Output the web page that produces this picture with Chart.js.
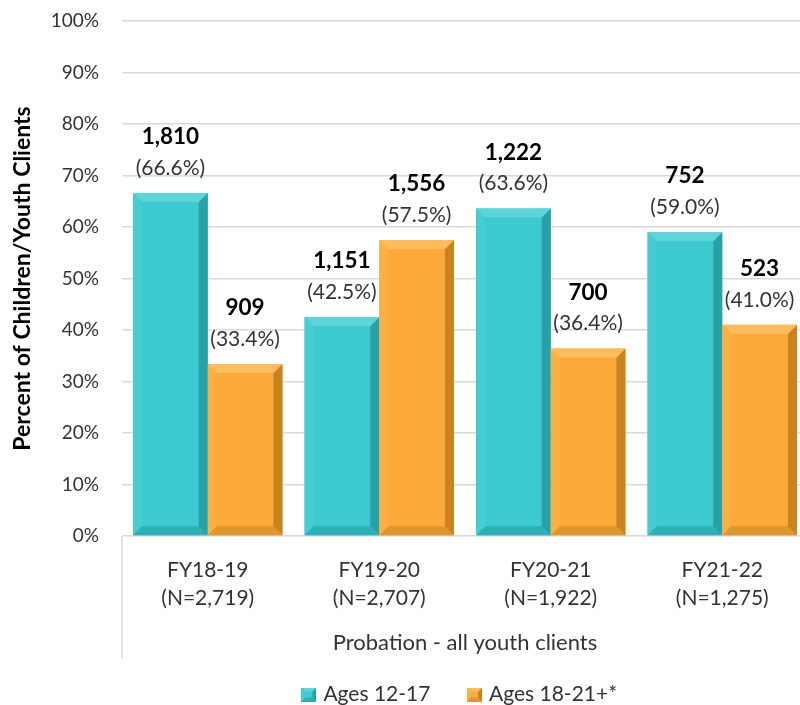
<!DOCTYPE html>
<html>
<head>
<meta charset="utf-8">
<script src="https://cdn.jsdelivr.net/npm/chart.js@4.4.1/dist/chart.umd.min.js"></script>
<style>
    html, body { margin: 0; padding: 0; background: #fff; overflow: hidden; }
    #chart { display: block; }
</style>
</head>
<body>
<canvas id="chart" width="810" height="705"></canvas>
<script>
// Data
const categories = [
    ['FY18-19', '(N=2,719)'],
    ['FY19-20', '(N=2,707)'],
    ['FY20-21', '(N=1,922)'],
    ['FY21-22', '(N=1,275)']
];
const seriesNames = ['Ages 12-17', 'Ages 18-21+*'];
const pctYouth = [66.6, 42.5, 63.6, 59.0];
const pctAdult = [33.4, 57.5, 36.4, 41.0];
const countYouth = [1810, 1151, 1222, 752];
const countAdult = [909, 1556, 700, 523];
const yMax = 100;
const yStep = 10;

const FONT = 'Lato, "Open Sans", sans-serif';
const TEXT = '#333333';
const GRID = '#D9D9D9';

const palette = [
    { face: '#3CC9CF', light: '#5CD4D9', left: '#45CDD2', dark: '#27A1A7', bottom: '#2FB0B6' },
    { face: '#FBAA3A', light: '#FDBC5E', left: '#FBB045', dark: '#C98220', bottom: '#DE962E' }
];

function poly(ctx, pts, color) {
    ctx.beginPath();
    ctx.moveTo(pts[0][0], pts[0][1]);
    for (let i = 1; i < pts.length; i++) ctx.lineTo(pts[i][0], pts[i][1]);
    ctx.closePath();
    ctx.fillStyle = color;
    ctx.fill();
}

// Excel-like bevel on a rectangle
function bevel(ctx, l, t, r, b, c, size) {
    const s = Math.min(size, (r - l) / 2, (b - t) / 2);
    poly(ctx, [[l, t], [l + s, t + s], [l + s, b - s], [l, b]], c.left);
    poly(ctx, [[l, b], [r, b], [r - s, b - s], [l + s, b - s]], c.bottom);
    poly(ctx, [[r, t], [r, b], [r - s, b - s], [r - s, t + s]], c.dark);
    poly(ctx, [[l, t], [r, t], [r - s, t + s], [l + s, t + s]], c.light);
}

function makeSwatch(c) {
    const cv = document.createElement('canvas');
    cv.width = 15;
    cv.height = 14;
    const g = cv.getContext('2d');
    g.fillStyle = c.face;
    g.fillRect(0, 0, 15, 14);
    bevel(g, 0, 0, 15, 14, c, 4);
    return cv;
}
const swatches = palette.map(makeSwatch);

const bevelPlugin = {
    id: 'bevel',
    afterDatasetsDraw(chart) {
        const ctx = chart.ctx;
        chart.data.datasets.forEach((ds, di) => {
            chart.getDatasetMeta(di).data.forEach(bar => {
                const { x, y, base, width } = bar.getProps(['x', 'y', 'base', 'width'], true);
                bevel(ctx, x - width / 2, y, x + width / 2, base, palette[di], 9);
            });
        });
    }
};

const labelPlugin = {
    id: 'barLabels',
    afterDatasetsDraw(chart) {
        const ctx = chart.ctx;
        const counts = [countYouth, countAdult];
        ctx.save();
        ctx.textAlign = 'center';
        ctx.textBaseline = 'middle';
        chart.data.datasets.forEach((ds, di) => {
            chart.getDatasetMeta(di).data.forEach((bar, i) => {
                const { x, y } = bar.getProps(['x', 'y'], true);
                ctx.fillStyle = '#000';
                ctx.font = 'bold 22.5px ' + FONT;
                ctx.fillText(counts[di][i].toLocaleString('en-US'), x, y - 56);
                ctx.fillStyle = TEXT;
                ctx.font = '21px ' + FONT;
                ctx.fillText('(' + ds.data[i].toFixed(1) + '%)', x, y - 25);
            });
        });
        ctx.restore();
    }
};

// left border of the category axis block
const axisLinePlugin = {
    id: 'axisLine',
    afterDraw(chart) {
        const ctx = chart.ctx;
        const x = chart.scales.x.left;
        ctx.save();
        ctx.strokeStyle = GRID;
        ctx.lineWidth = 1.5;
        ctx.beginPath();
        ctx.moveTo(x, chart.chartArea.bottom);
        ctx.lineTo(x, 658);
        ctx.stroke();
        ctx.restore();
    }
};

// move the legend under the plot like the original
const legendShiftPlugin = {
    id: 'legendShift',
    afterLayout(chart) {
        const lg = chart.legend;
        if (!lg) return;
        lg.left += 57;
        lg.right += 57;
        lg.top += 10;
        lg.bottom += 10;
    }
};

new Chart(document.getElementById('chart'), {
    type: 'bar',
    data: {
        labels: categories,
        datasets: [
            { label: seriesNames[0], data: pctYouth, backgroundColor: palette[0].face },
            { label: seriesNames[1], data: pctAdult, backgroundColor: palette[1].face }
        ]
    },
    options: {
        responsive: false,
        animation: false,
        layout: { padding: { top: 21, right: 2, left: 0, bottom: 0 } },
        datasets: {
            bar: { categoryPercentage: 0.871, barPercentage: 1.0, borderWidth: 0 }
        },
        plugins: {
            tooltip: { enabled: false },
            legend: {
                position: 'bottom',
                labels: {
                    usePointStyle: true,
                    boxWidth: 8,
                    padding: 40,
                    color: TEXT,
                    font: { family: FONT, size: 21 },
                    generateLabels(chart) {
                        const items = Chart.defaults.plugins.legend.labels.generateLabels(chart);
                        items.forEach((it, i) => { it.pointStyle = swatches[i]; });
                        return items;
                    }
                }
            }
        },
        scales: {
            x: {
                grid: { display: false, drawTicks: false },
                border: { display: false },
                ticks: {
                    color: TEXT,
                    padding: 21,
                    font: { family: FONT, size: 21, lineHeight: 1.3 }
                },
                title: {
                    display: true,
                    text: 'Probation - all youth clients',
                    color: TEXT,
                    font: { family: FONT, size: 22 },
                    padding: { top: 0, bottom: -22 }
                },
                afterFit(scale) { scale.height = 98; }
            },
            y: {
                min: 0,
                max: yMax,
                ticks: {
                    stepSize: yStep,
                    color: TEXT,
                    padding: 23,
                    font: { family: FONT, size: 19 },
                    callback: v => v + '%'
                },
                grid: { color: GRID, lineWidth: 1.5, drawTicks: false },
                border: { display: false },
                title: {
                    display: true,
                    text: 'Percent of Children/Youth Clients',
                    color: '#000',
                    font: { family: FONT, size: 23, weight: 'bold' },
                    padding: { top: 9, bottom: 0 }
                },
                afterFit(scale) {
                    scale.width = 122;
                    // tick padding should not push the plot down
                    scale.paddingTop = 12;
                    scale.paddingBottom = 12;
                }
            }
        }
    },
    plugins: [bevelPlugin, labelPlugin, axisLinePlugin, legendShiftPlugin]
});
</script>
</body>
</html>
